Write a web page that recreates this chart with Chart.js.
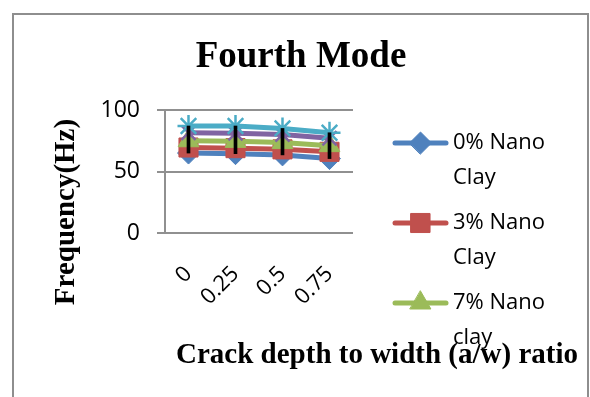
<!DOCTYPE html>
<html>
<head>
<meta charset="utf-8">
<script src="https://cdn.jsdelivr.net/npm/chart.js@4/dist/chart.umd.min.js"></script>
<style>
  html, body { margin: 0; padding: 0; background: #fff; }
  #wrap { position: relative; width: 590px; height: 397px; overflow: hidden; }
  #frame { position: absolute; left: 12px; top: 13px; width: 577px; height: 420px;
           border: 2px solid #8e8e8e; box-sizing: border-box; }
  canvas { position: absolute; left: 0; top: 0; }
</style>
</head>
<body>
<div id="wrap">
  <div id="frame"></div>
  <canvas id="chart" width="590" height="397"></canvas>
</div>
<script>
// Crack depth ratio categories and fourth-mode natural frequencies (Hz)
const crackRatios = ['0', '0.25', '0.5', '0.75'];
const seriesNames = ['0% Nano Clay', '3% Nano Clay', '7% Nano clay', '10% Nano Clay', '15% Nano Clay'];
const freq0 = [65, 64.5, 63.5, 60.5];
const freq3 = [69.5, 69, 68, 66];
const freq7 = [75, 74.5, 73.5, 71];
const freq10 = [81.5, 81, 80, 77];
const freq15 = [87, 87, 85, 81.5];
const yTicks = [0, 50, 100];

const chartTitle = 'Fourth Mode';
const xTitle = 'Crack depth to width (a/w) ratio';
const yTitle = 'Frequency(Hz)';

const allSeries = [freq0, freq3, freq7, freq10, freq15];
const colors = ['#4F81BD', '#C0504D', '#9BBB59', '#8064A2', '#4BACC6'];
const styles = ['rectRot', 'rect', 'triangle', 'crossRot', 'star'];
const radii = [11, 13.5, 12, 10, 11];

// high-low range across the series at each crack ratio
const hiLo = crackRatios.map((_, i) => {
  const vals = allSeries.map(s => s[i]);
  return [Math.min(...vals), Math.max(...vals)];
});

const lineSets = allSeries.map((data, i) => ({
  type: 'line',
  label: seriesNames[i],
  data: data,
  borderColor: colors[i],
  backgroundColor: colors[i],
  borderWidth: 5,
  pointStyle: styles[i],
  pointRadius: radii[i],
  pointBorderColor: colors[i],
  pointBackgroundColor: colors[i],
  pointBorderWidth: (styles[i] === 'crossRot' || styles[i] === 'star') ? 2.5 : 1,
  tension: 0,
  order: 5 - i
}));

const hiLoSet = {
  type: 'bar',
  label: 'High-Low',
  data: hiLo,
  backgroundColor: '#000',
  borderWidth: 0,
  barThickness: 3,
  order: 0
};

const SERIF = "'Liberation Serif', 'Times New Roman', serif";
const SANS = "'Open Sans', sans-serif";

const textPlugin = {
  id: 'chartText',
  afterDraw(chart) {
    const ctx = chart.ctx;
    ctx.save();
    ctx.fillStyle = '#000';
    // title
    ctx.font = 'bold 37px ' + SERIF;
    ctx.textAlign = 'center';
    ctx.textBaseline = 'alphabetic';
    ctx.fillText(chartTitle, 301, 67);
    // x axis title
    ctx.font = 'bold 29px ' + SERIF;
    ctx.fillText(xTitle, 377, 363);
    // y axis title
    ctx.save();
    ctx.translate(74, 212);
    ctx.rotate(-Math.PI / 2);
    ctx.fillText(yTitle, 0, 0);
    ctx.restore();

    // legend: only the first three series fit in the frame
    const lines = chart.data.datasets.filter(d => d.type === 'line').slice(0, 3);
    lines.forEach((ds, k) => {
      const y = 143 + k * 80;
      ctx.strokeStyle = ds.borderColor;
      ctx.fillStyle = ds.backgroundColor;
      ctx.lineWidth = 5;
      ctx.lineCap = 'round';
      ctx.beginPath();
      ctx.moveTo(395, y);
      ctx.lineTo(446, y);
      ctx.stroke();
      ctx.lineWidth = 1;
      Chart.helpers.drawPoint(ctx, { pointStyle: ds.pointStyle, radius: ds.pointRadius, borderWidth: 1, rotation: 0 }, 420.5, y);
      ctx.fillStyle = '#000';
      ctx.font = '22px ' + SANS;
      ctx.textAlign = 'left';
      ctx.textBaseline = 'middle';
      const name = ds.label;
      const cut = name.lastIndexOf(' ');
      ctx.fillText(name.slice(0, cut), 453, y);
      ctx.fillText(name.slice(cut + 1), 453, y + 35);
    });
    ctx.restore();
  }
};

new Chart(document.getElementById('chart'), {
  type: 'bar',
  data: { labels: crackRatios, datasets: [hiLoSet, ...lineSets] },
  plugins: [textPlugin],
  options: {
    responsive: false,
    animation: false,
    events: [],
    layout: { padding: { left: 0, top: 110, right: 237, bottom: 0 } },
    plugins: { legend: { display: false }, title: { display: false }, tooltip: { enabled: false } },
    scales: {
      x: {
        offset: true,
        grid: { display: false },
        border: { display: false },
        ticks: { color: '#000', font: { family: SANS, size: 22 }, maxRotation: 45, minRotation: 45, padding: 20 },
        afterFit(s) { s.height = 164; }
      },
      y: {
        min: 0, max: 100,
        afterBuildTicks(s) { s.ticks = yTicks.map(v => ({ value: v })); },
        grid: { color: '#909090', lineWidth: 2, tickLength: 8 },
        border: { display: true, color: '#909090', width: 2 },
        ticks: { color: '#000', font: { family: SANS, size: 23 }, padding: 17 },
        afterFit(s) { s.width = 165; }
      }
    }
  }
});
</script>
</body>
</html>
